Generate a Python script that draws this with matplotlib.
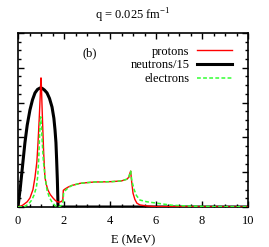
import numpy as np
import matplotlib.pyplot as plt
from matplotlib.ticker import MultipleLocator, NullFormatter

plt.rcParams['font.family'] = ['Liberation Serif', 'DejaVu Serif']
plt.rcParams['font.size'] = 9

# neutrons (divided by 15)
E_n = [0, 0.05, 0.1, 0.2, 0.3, 0.4, 0.52, 0.63, 0.74, 0.85, 0.96, 1.05, 1.15, 1.26,
       1.37, 1.48, 1.56, 1.61, 1.65, 1.68, 1.71, 1.73, 1.74, 10]
neut = [0, 0.28, 0.55, 1.2, 1.84, 2.35, 2.79, 3.08, 3.28, 3.38, 3.42, 3.41, 3.36, 3.28,
        3.12, 2.87, 2.55, 2.21, 1.85, 1.35, 0.8, 0.3, 0, 0]

# protons
E_p = [0, 0.2, 0.4, 0.52, 0.65, 0.74, 0.82, 0.87, 0.92, 0.96, 0.98, 1.0, 1.02, 1.04,
       1.08, 1.12, 1.17, 1.23, 1.3, 1.4, 1.52, 1.62, 1.7, 1.8, 1.9, 1.95, 1.97, 2.05,
       2.2, 2.35, 2.7, 3.0, 3.35, 3.57, 4.1, 4.5, 4.74, 4.82, 4.87, 4.9, 4.93, 5.0,
       5.08, 5.17, 5.3, 5.6, 6.0, 10]
prot = [0, 0.05, 0.15, 0.26, 0.5, 0.86, 1.3, 1.84, 2.5, 3.1, 3.45, 3.71, 3.45, 3.0,
        2.2, 1.5, 0.86, 0.65, 0.49, 0.36, 0.26, 0.19, 0.15, 0.14, 0.16, 0.22, 0.48, 0.52,
        0.58, 0.62, 0.68, 0.7, 0.72, 0.72, 0.73, 0.75, 0.8, 0.86, 0.98, 1.03, 0.8, 0.4,
        0.22, 0.11, 0.06, 0.03, 0.01, 0]

# electrons
E_e = [0, 0.3, 0.45, 0.6, 0.7, 0.8, 0.86, 0.9, 0.93, 0.96, 0.99, 1.02, 1.06, 1.1,
       1.18, 1.26, 1.36, 1.48, 1.6, 1.7, 1.8, 1.9, 1.96, 1.98, 2.05, 2.2, 2.35, 2.7,
       3.0, 3.35, 3.57, 4.1, 4.5, 4.74, 4.82, 4.87, 4.9, 4.95, 5.05, 5.15, 5.3, 5.6,
       6.04, 6.7, 7.5, 8.5, 10]
elec = [0, 0.02, 0.08, 0.2, 0.35, 0.57, 0.9, 1.35, 1.9, 2.45, 2.59, 2.3, 1.8, 1.35,
        0.85, 0.49, 0.28, 0.14, 0.05, 0.01, 0.01, 0.05, 0.15, 0.38, 0.47, 0.56, 0.62, 0.68,
        0.7, 0.72, 0.72, 0.73, 0.75, 0.8, 0.86, 0.98, 1.03, 0.75, 0.5, 0.33, 0.2, 0.15,
        0.11, 0.05, 0.025, 0.01, 0.005]

fig = plt.figure(figsize=(2.69, 2.47), dpi=100)
ax = fig.add_axes([18/269, 1-207/247, 230/269, 174/247])

ax.plot(E_p, prot, color='red', lw=1.0, label='protons', zorder=3)
ax.plot(E_n, neut, color='black', lw=2.2, label='neutrons/15', zorder=2)
ax.plot(E_e, elec, color='#33ff33', lw=1.1, ls=(0, (2.5, 1.5)), label='electrons', zorder=4)

ax.set_xlim(0, 10)
ax.set_ylim(0, 5)
ax.xaxis.set_major_locator(MultipleLocator(2))
ax.xaxis.set_minor_locator(MultipleLocator(0.5))
ax.yaxis.set_major_locator(MultipleLocator(1))
ax.yaxis.set_minor_locator(MultipleLocator(0.25))
ax.yaxis.set_major_formatter(NullFormatter())
ax.tick_params(which='both', direction='in', top=True, right=True, width=1)
ax.tick_params(which='major', length=4, pad=6)
ax.tick_params(which='minor', length=2)
for s in ax.spines.values():
    s.set_linewidth(1.2)

ax.set_xlabel('E (MeV)', labelpad=5)
ax.set_title(r'q = 0.025 fm$^{\mathregular{-1}}$', fontsize=9, pad=10)
ax.text(3.1, 4.43, '(b)', ha='center', va='center', fontsize=9)

ax.legend(loc='upper right', frameon=False, markerfirst=False, handlelength=2.8,
          borderaxespad=0.6, labelspacing=0.15, handletextpad=0.6, fontsize=9,
          bbox_to_anchor=(0.985, 1.0))

fig.savefig('out.png', dpi=100)
